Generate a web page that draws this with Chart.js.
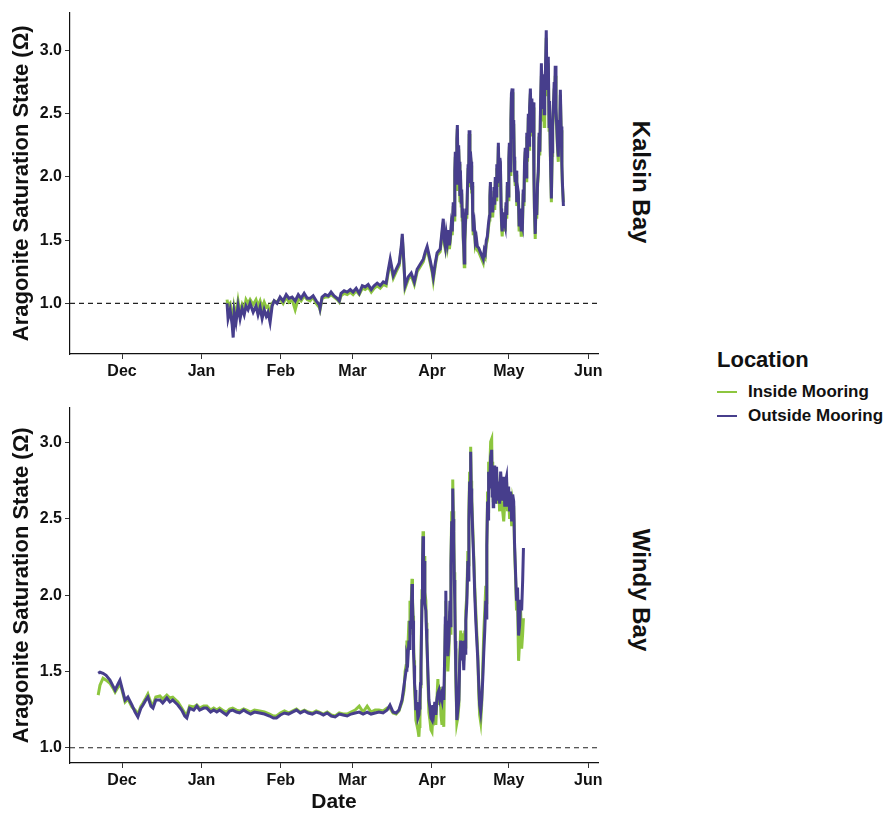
<!DOCTYPE html>
<html>
<head>
<meta charset="utf-8">
<script src="https://cdn.jsdelivr.net/npm/chart.js@4.4.1/dist/chart.umd.min.js"></script>
<style>
  body { margin: 0; background: #fff; font-family: "Liberation Sans", Arial, sans-serif; }
  #wrap { position: relative; width: 885px; height: 813px; }
  .panel { position: absolute; left: 0; }
  .strip { position: absolute; writing-mode: vertical-rl; font-weight: bold; font-size: 24px; color: #111;
           transform: translate(-50%, -50%); white-space: nowrap; }
  #legend { position: absolute; left: 717px; top: 347px; color: #111; }
  #legend .ttl { font-weight: bold; font-size: 22px; margin-bottom: 7px; }
  #legend .item { display: flex; align-items: center; font-weight: bold; font-size: 17px; height: 24px; }
  #legend .sw { width: 20px; height: 2.5px; margin-right: 11px; }
</style>
</head>
<body>
<div id="wrap">
  <div class="panel" style="top:0;width:620px;height:385px"><canvas id="kalsin"></canvas></div>
  <div class="panel" style="top:395px;width:620px;height:418px"><canvas id="windy"></canvas></div>
  <div class="strip" style="left:641px;top:182px">Kalsin Bay</div>
  <div class="strip" style="left:641px;top:590px">Windy Bay</div>
  <div id="legend">
    <div class="ttl">Location</div>
    <div class="item"><span class="sw" style="background:#8DC63F"></span>Inside Mooring</div>
    <div class="item"><span class="sw" style="background:#473E8C"></span>Outside Mooring</div>
  </div>
</div>
<script>
// days counted from 1 Dec
const monthTicks = [0, 31, 62, 90, 121, 151, 182];
const monthLabels = ["Dec", "Jan", "Feb", "Mar", "Apr", "May", "Jun"];
const omegaTicks = [1.0, 1.5, 2.0, 2.5, 3.0];

// Kalsin Bay
const kalsinDays = [
  41.0, 41.4, 42.2, 43.0, 43.4, 43.8, 44.5, 45.3, 46.1, 46.9,
  47.7, 48.4, 49.2, 50.0, 51.2, 52.3, 53.1, 53.9, 54.7, 55.5,
  56.3, 57.0, 57.8, 58.6, 59.4, 60.5, 61.7, 62.9, 64.1, 65.2,
  66.4, 67.6, 68.8, 69.9, 71.1, 72.3, 73.4, 74.6, 75.8, 77.0,
  77.3, 78.1, 79.3, 80.5, 81.6, 82.8, 84.0, 84.8, 85.5, 86.7,
  87.9, 89.1, 90.2, 91.4, 92.6, 93.8, 94.9, 96.1, 97.3, 98.4,
  99.6, 100.8, 102.0, 103.1, 103.9, 104.7, 105.9, 107.0, 108.2, 109.0,
  109.4, 109.8, 110.5, 111.7, 112.9, 114.1, 115.2, 116.4, 117.6, 118.4,
  119.1, 120.3, 121.1, 121.5, 122.3, 123.0, 124.2,
  125.4, 125.8, 126.2, 126.6, 127.0, 127.4, 127.8, 128.1, 128.5, 128.9,
  129.3, 129.6, 129.9, 130.1, 130.4, 130.7, 130.9, 131.2, 131.4, 131.6,
  131.9, 132.1, 132.4, 132.6, 132.8, 133.0, 133.2, 133.4, 133.6, 133.8,
  134.0, 134.3, 134.6, 134.8, 135.1, 135.3, 135.5, 135.8, 136.0, 136.3,
  136.5, 136.7, 136.9, 137.1, 137.5, 137.9, 138.3, 138.7, 139.2, 139.8,
  140.4, 141.0, 141.4, 141.8, 142.2, 142.6, 143.0, 143.4, 143.6, 143.8,
  144.1, 144.5, 144.7, 144.9, 145.2, 145.5, 145.7, 146.0, 146.3, 146.6,
  146.9, 147.2, 147.5, 147.7, 148.0, 148.2, 148.4, 148.8, 149.2, 149.6,
  149.9, 150.2, 150.4, 150.7, 151.0, 151.2, 151.5, 151.8, 152.0, 152.3,
  152.6, 152.9, 153.1, 153.3, 153.5, 153.8, 154.1, 154.4, 154.7, 155.0,
  155.3, 155.5, 155.8, 156.0, 156.3, 156.6, 156.9, 157.1, 157.4, 157.7,
  158.0, 158.3, 158.6, 158.9, 159.1, 159.4, 159.7, 160.0, 160.2, 160.5,
  160.8, 161.0, 161.3, 161.6, 161.9, 162.2, 162.5, 162.8, 163.1, 163.4,
  163.7, 164.0, 164.3, 164.5, 164.8, 165.0, 165.3, 165.6, 165.9, 166.1,
  166.4, 166.7, 166.9, 167.2, 167.4, 167.6, 167.9, 168.1, 168.4, 168.7,
  168.9, 169.1, 169.4, 169.7, 170.0, 170.3, 170.6, 170.8, 171.1, 171.4,
  171.7, 171.9, 172.3
];
const kalsinOutside = [
  1.00, 0.88, 0.95, 0.83, 0.73, 0.93, 0.85, 0.98, 0.88, 0.96,
  0.91, 0.98, 0.95, 1.00, 0.93, 0.98, 0.91, 0.97, 0.88, 0.95,
  0.90, 0.93, 0.85, 0.98, 1.02, 1.00, 1.05, 1.02, 1.07, 1.04,
  1.05, 1.02, 1.07, 1.04, 1.08, 1.04, 1.04, 1.06, 1.02, 0.99,
  0.96, 1.05, 1.07, 1.06, 1.09, 1.06, 1.04, 1.02, 1.08, 1.10,
  1.09, 1.11, 1.09, 1.12, 1.08, 1.14, 1.13, 1.15, 1.11, 1.14,
  1.16, 1.14, 1.17, 1.16, 1.26, 1.35, 1.22, 1.27, 1.32, 1.45,
  1.55, 1.41, 1.14, 1.21, 1.24, 1.17, 1.27, 1.31, 1.35, 1.41,
  1.45, 1.34, 1.26, 1.21, 1.32, 1.40, 1.43,
  1.67, 1.50, 1.45, 1.55, 1.49, 1.58, 1.46, 1.51, 1.62, 1.57,
  1.80, 1.70, 2.05, 2.20, 1.95, 2.30, 2.41, 2.00, 2.25, 2.12,
  1.85, 2.05, 1.80, 1.90, 1.69, 1.75, 1.53, 1.45, 1.32, 1.50,
  1.61, 1.75, 1.70, 1.88, 2.10, 1.95, 2.37, 2.05, 2.20, 2.12,
  1.90, 1.96, 1.70, 1.57, 1.62, 1.49, 1.52, 1.45, 1.44, 1.41,
  1.38, 1.35, 1.42, 1.40, 1.50, 1.53, 1.62, 1.69, 1.85, 1.96,
  1.75, 1.84, 1.72, 1.80, 1.92, 1.78, 2.00, 1.85, 2.10, 1.95,
  2.27, 1.98, 2.15, 2.12, 1.75, 1.62, 1.57, 1.72, 1.65, 1.61,
  1.80, 1.70, 1.96, 1.85, 2.15, 2.27, 2.05, 2.45, 2.66, 2.70,
  2.30, 2.45, 2.16, 2.02, 1.96, 2.05, 1.80, 1.92, 1.88, 1.62,
  1.75, 1.70, 1.58, 1.65, 1.62, 1.90, 1.80, 2.10, 2.23, 2.00,
  2.35, 2.15, 2.50, 2.25, 2.55, 2.70, 2.45, 2.62, 2.35, 2.59,
  2.00, 1.75, 1.55, 1.80, 1.70, 1.95, 2.05, 2.35, 2.20, 2.60,
  2.90, 2.55, 2.80, 2.80, 2.50, 2.75, 2.85, 3.16, 2.70, 2.90,
  2.95, 2.40, 2.60, 2.20, 2.00, 1.83, 2.20, 2.40, 2.56, 2.75,
  2.60, 2.88, 2.55, 2.40, 2.25, 2.16, 2.45, 2.30, 2.69, 2.40,
  2.10, 1.96, 1.77
];
const kalsinInside = [
  1.03, 0.98, 1.00, 0.90, 0.85, 0.97, 0.90, 1.02, 0.92, 0.99,
  0.95, 1.03, 1.00, 1.03, 0.99, 1.03, 0.98, 1.02, 0.96, 1.01,
  0.97, 0.98, 0.90, 1.00, 1.02, 1.01, 1.04, 1.00, 1.05, 1.01,
  1.03, 0.95, 1.04, 1.02, 1.06, 1.03, 1.02, 1.05, 1.00, 0.97,
  0.95, 1.04, 1.05, 1.05, 1.07, 1.05, 1.03, 1.01, 1.06, 1.08,
  1.07, 1.09, 1.07, 1.10, 1.07, 1.12, 1.11, 1.13, 1.09, 1.12,
  1.14, 1.12, 1.15, 1.14, 1.24, 1.32, 1.20, 1.25, 1.30, 1.43,
  1.52, 1.40, 1.12, 1.19, 1.22, 1.15, 1.25, 1.29, 1.33, 1.39,
  1.43, 1.32, 1.24, 1.18, 1.30, 1.38, 1.41,
  1.64, 1.47, 1.43, 1.52, 1.46, 1.55, 1.43, 1.48, 1.59, 1.54,
  1.77, 1.66, 2.02, 2.16, 1.90, 2.27, 2.38, 1.96, 2.22, 2.10,
  1.80, 2.02, 1.77, 1.87, 1.66, 1.72, 1.50, 1.42, 1.29, 1.47,
  1.58, 1.72, 1.67, 1.85, 2.07, 1.92, 2.34, 2.02, 2.17, 2.09,
  1.87, 1.93, 1.67, 1.54, 1.59, 1.46, 1.49, 1.42, 1.41, 1.38,
  1.35, 1.32, 1.39, 1.37, 1.47, 1.50, 1.59, 1.66, 1.82, 1.93,
  1.70, 1.81, 1.68, 1.77, 1.89, 1.74, 1.97, 1.82, 2.07, 1.92,
  2.24, 1.95, 2.12, 2.09, 1.72, 1.59, 1.53, 1.69, 1.62, 1.57,
  1.77, 1.67, 1.93, 1.82, 2.12, 2.24, 2.02, 2.42, 2.63, 2.67,
  2.27, 2.42, 2.13, 1.99, 1.93, 2.02, 1.77, 1.89, 1.85, 1.58,
  1.72, 1.67, 1.54, 1.62, 1.58, 1.87, 1.77, 2.07, 2.20, 1.97,
  2.32, 2.12, 2.47, 2.22, 2.52, 2.66, 2.42, 2.59, 2.32, 2.55,
  1.97, 1.72, 1.51, 1.77, 1.67, 1.92, 2.02, 2.32, 2.17, 2.57,
  2.80, 2.45, 2.62, 2.62, 2.40, 2.70, 2.80, 3.10, 2.65, 2.85,
  2.90, 2.37, 2.57, 2.17, 1.97, 1.80, 2.17, 2.37, 2.53, 2.70,
  2.57, 2.80, 2.52, 2.37, 2.22, 2.12, 2.42, 2.27, 2.65, 2.37,
  2.07, 1.93, 1.80
];

// Windy Bay
const windyDays = [
  -9.3, -8.6, -7.4, -6.2, -4.7, -3.5, -2.7, -1.6, -0.8, 0.0,
  1.2, 2.3, 3.9, 5.1, 6.2, 7.4, 8.2, 9.3, 10.1, 11.3,
  12.1, 13.2, 14.8, 15.9, 17.5, 18.7, 19.8, 21.0, 21.8, 23.3,
  24.5, 25.3, 26.4, 28.0, 29.2, 30.3, 31.9, 33.1, 34.6, 35.8,
  37.0, 38.1, 39.7, 40.8, 42.0, 43.2, 44.7, 45.9, 47.5, 48.6,
  50.2, 51.7, 53.7, 55.6, 57.6, 59.1, 60.3, 61.8, 63.4, 65.0,
  66.5, 68.1, 69.6, 71.2, 72.7, 74.3, 75.8, 77.0, 78.6, 80.1,
  81.7, 83.2, 84.8, 86.3, 87.9, 89.4, 91.0, 92.6, 94.1, 95.7,
  97.2, 98.8, 100.3, 101.9, 103.5, 104.6, 105.8, 107.0, 108.1,
  109.3, 109.7, 110.1, 110.5, 110.9, 111.2, 111.6, 112.0, 112.2, 112.4,
  112.8, 113.2, 113.4, 113.6, 113.8, 114.0, 114.2, 114.4, 114.7, 115.1,
  115.5, 115.9, 116.1, 116.3, 116.5, 116.7, 116.9, 117.1, 117.3, 117.5,
  117.7, 117.9, 118.2, 118.6, 118.8, 119.0, 119.4, 119.8, 120.2, 120.6,
  121.0, 121.3, 121.7, 122.1, 122.5, 122.9, 123.3, 123.7, 124.1, 124.5,
  124.9, 125.3, 125.6, 126.0, 126.2, 126.4, 126.6, 126.8, 127.2, 127.6,
  128.0, 128.2, 128.4, 128.7, 128.9, 129.1, 129.3, 129.5, 129.7, 129.9,
  130.1, 130.3, 130.7, 131.1, 131.5, 131.8, 132.2, 132.6, 133.0, 133.4,
  133.8, 134.0, 134.2, 134.6, 135.0, 135.2, 135.4, 135.7, 135.9, 136.1,
  136.3, 136.5, 136.9, 137.3, 137.7, 138.1, 138.5, 138.9, 139.2, 139.6,
  140.0, 140.4, 140.8, 141.2, 141.6, 142.0, 142.2, 142.4, 142.7, 142.9,
  143.1, 143.5, 143.9, 144.3, 144.5, 144.7, 144.9, 145.1, 145.3, 145.5,
  145.8, 146.2, 146.6, 147.0, 147.4, 147.8, 148.2, 148.6, 149.0, 149.4,
  149.7, 150.1, 150.5, 150.9, 151.3, 151.7, 152.1, 152.5, 152.9, 153.2,
  153.6, 154.0, 154.4, 154.8, 155.2, 155.6, 156.0, 156.4, 156.7
];
const windyOutside = [
  1.488, 1.495, 1.488, 1.475, 1.443, 1.404, 1.378, 1.417, 1.443, 1.391,
  1.313, 1.332, 1.280, 1.234, 1.202, 1.260, 1.280, 1.313, 1.332, 1.273,
  1.260, 1.313, 1.313, 1.293, 1.326, 1.300, 1.313, 1.293, 1.280, 1.247,
  1.208, 1.195, 1.260, 1.247, 1.273, 1.247, 1.260, 1.260, 1.234, 1.247,
  1.234, 1.247, 1.228, 1.215, 1.241, 1.247, 1.234, 1.228, 1.247, 1.234,
  1.221, 1.234, 1.228, 1.221, 1.208, 1.195, 1.195, 1.215, 1.228, 1.221,
  1.234, 1.247, 1.228, 1.241, 1.228, 1.221, 1.234, 1.228, 1.215, 1.228,
  1.208, 1.202, 1.221, 1.215, 1.208, 1.221, 1.228, 1.234, 1.221, 1.234,
  1.221, 1.228, 1.234, 1.228, 1.247, 1.280, 1.234, 1.228, 1.247,
  1.313, 1.36, 1.410, 1.46, 1.508, 1.605, 1.58, 1.703, 1.65, 1.833,
  1.78, 2.074, 1.95, 1.833, 1.62, 1.540, 1.42, 1.378, 1.247, 1.30,
  1.195, 1.215, 1.26, 1.313, 1.42, 1.508, 1.75, 1.964, 2.20, 2.387,
  2.10, 2.224, 1.95, 1.898, 1.78, 1.703, 1.50, 1.313, 1.26, 1.195,
  1.182, 1.28, 1.234, 1.30, 1.215, 1.313, 1.36, 1.378, 1.32, 1.345,
  1.313, 1.40, 1.313, 1.638, 1.85, 2.029, 1.70, 1.833, 1.60, 1.703,
  1.964, 1.80, 2.191, 2.484, 2.40, 2.699, 2.50, 2.354, 2.10, 1.964,
  1.70, 1.508, 1.182, 1.25, 1.313, 1.55, 1.703, 1.573, 1.70, 1.508,
  1.703, 1.62, 1.833, 1.95, 2.224, 2.10, 2.484, 2.745, 2.60, 2.940,
  2.70, 2.615, 2.40, 2.224, 2.00, 1.833, 1.70, 1.573, 1.443, 1.280,
  1.234, 1.313, 1.443, 1.62, 1.768, 1.964, 1.85, 2.322, 2.615, 2.50,
  2.810, 2.70, 2.908, 2.953, 2.65, 2.810, 2.58, 2.615, 2.85, 2.745,
  2.60, 2.842, 2.62, 2.745, 2.60, 2.810, 2.712, 2.62, 2.777, 2.58,
  2.745, 2.777, 2.58, 2.712, 2.55, 2.680, 2.484, 2.66, 2.615, 2.354,
  2.158, 1.964, 2.05, 1.736, 1.800, 1.970, 1.900, 2.100, 2.310
];
const windyInside = [
  1.345, 1.410, 1.456, 1.443, 1.423, 1.391, 1.365, 1.397, 1.423, 1.378,
  1.300, 1.319, 1.267, 1.247, 1.221, 1.273, 1.293, 1.326, 1.352, 1.293,
  1.280, 1.332, 1.339, 1.319, 1.345, 1.326, 1.332, 1.313, 1.300, 1.260,
  1.228, 1.215, 1.273, 1.267, 1.280, 1.260, 1.273, 1.273, 1.247, 1.260,
  1.247, 1.260, 1.241, 1.234, 1.254, 1.260, 1.247, 1.241, 1.254, 1.247,
  1.234, 1.247, 1.241, 1.234, 1.221, 1.208, 1.208, 1.228, 1.241, 1.228,
  1.241, 1.254, 1.234, 1.247, 1.234, 1.228, 1.241, 1.234, 1.221, 1.234,
  1.215, 1.208, 1.228, 1.221, 1.221, 1.234, 1.247, 1.273, 1.234, 1.273,
  1.234, 1.247, 1.247, 1.241, 1.260, 1.260, 1.228, 1.221, 1.241,
  1.300, 1.34, 1.378, 1.50, 1.540, 1.703, 1.66, 1.833, 1.75, 1.964,
  1.90, 2.107, 1.98, 1.866, 1.70, 1.573, 1.38, 1.313, 1.182, 1.15,
  1.117, 1.072, 1.14, 1.182, 1.40, 1.573, 1.80, 2.029, 2.22, 2.420,
  2.15, 2.257, 2.02, 1.964, 1.82, 1.703, 1.45, 1.228, 1.18, 1.117,
  1.104, 1.20, 1.182, 1.25, 1.150, 1.313, 1.45, 1.280, 1.40, 1.215,
  1.150, 1.30, 1.137, 1.573, 1.80, 1.964, 1.60, 1.768, 1.50, 1.638,
  1.898, 1.75, 2.224, 2.550, 2.45, 2.758, 2.55, 2.420, 2.15, 2.029,
  1.65, 1.443, 1.163, 1.20, 1.280, 1.60, 1.768, 1.638, 1.75, 1.573,
  1.768, 1.66, 1.898, 2.00, 2.289, 2.20, 2.550, 2.810, 2.70, 2.973,
  2.75, 2.647, 2.45, 2.257, 2.05, 1.898, 1.75, 1.606, 1.378, 1.215,
  1.169, 1.280, 1.508, 1.75, 1.898, 2.061, 1.95, 2.322, 2.680, 2.55,
  2.875, 2.80, 3.006, 3.025, 2.70, 2.875, 2.62, 2.680, 2.83, 2.777,
  2.62, 2.810, 2.60, 2.712, 2.55, 2.745, 2.615, 2.55, 2.484, 2.60,
  2.680, 2.745, 2.55, 2.647, 2.50, 2.615, 2.452, 2.62, 2.582, 2.322,
  2.126, 1.900, 1.95, 1.570, 1.700, 1.900, 1.650, 1.750, 1.850
];

const insideColor = "#8DC63F";
const outsideColor = "#473E8C";
const xMin = -20.3, xMax = 185.8;
const font = "'Liberation Sans', Arial, sans-serif";

function toPoints(xs, ys) {
  return xs.map((x, i) => ({ x: x, y: ys[i] }));
}

function makeChart(id, days, inside, outside, yMin, yMax, xAxisHeight, showXTitle) {
  return new Chart(document.getElementById(id), {
    type: "line",
    data: {
      datasets: [
        { label: "Outside Mooring", data: toPoints(days, outside), borderColor: outsideColor, borderWidth: 3 },
        { label: "Inside Mooring", data: toPoints(days, inside), borderColor: insideColor, borderWidth: 3 },
        { label: "ref", data: [{ x: xMin, y: 1 }, { x: xMax, y: 1 }], borderColor: "#222", borderWidth: 1.1, borderDash: [5, 4] }
      ]
    },
    options: {
      responsive: true,
      maintainAspectRatio: false,
      animation: false,
      events: [],
      layout: { padding: { top: 10, right: 22, left: 0, bottom: 0 } },
      elements: { point: { radius: 0 }, line: { tension: 0, borderJoinStyle: "miter" } },
      plugins: { legend: { display: false }, tooltip: { enabled: false } },
      scales: {
        x: {
          type: "linear",
          min: xMin,
          max: xMax,
          afterBuildTicks: (s) => { s.ticks = monthTicks.map(v => ({ value: v })); },
          afterFit: (s) => { s.height = xAxisHeight; },
          ticks: {
            autoSkip: false, maxRotation: 0, padding: 3, color: "#111",
            font: { family: font, size: 16, weight: "bold" },
            callback: (v, i) => monthLabels[i]
          },
          grid: { drawOnChartArea: false, tickLength: 5, color: "#333" },
          border: { color: "#111", width: 1.2 },
          title: {
            display: showXTitle, text: "Date", color: "#111",
            font: { family: font, size: 21, weight: "bold", lineHeight: 1 }, padding: { top: 0, bottom: 0 }
          }
        },
        y: {
          min: yMin,
          max: yMax,
          afterBuildTicks: (s) => { s.ticks = omegaTicks.map(v => ({ value: v })); },
          afterFit: (s) => { s.width = 70; },
          ticks: {
            padding: 3, color: "#111",
            font: { family: font, size: 16, weight: "bold" },
            callback: (v) => Number(v).toFixed(1)
          },
          grid: { drawOnChartArea: false, tickLength: 5, color: "#333" },
          border: { color: "#111", width: 1.2 },
          title: {
            display: true, text: "Aragonite Saturation State (Ω)", color: "#111",
            font: { family: font, size: 22, weight: "bold" }, padding: { top: 9, bottom: 0 }
          }
        }
      }
    }
  });
}

makeChart("kalsin", kalsinDays, kalsinInside, kalsinOutside, 0.60, 3.30, 31, false);
makeChart("windy", windyDays, windyInside, windyOutside, 0.90, 3.23, 50, true);
</script>
</body>
</html>
